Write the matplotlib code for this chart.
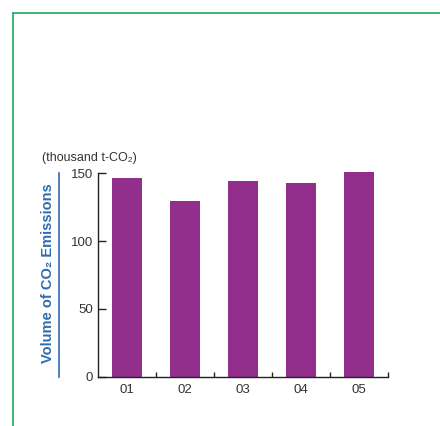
import matplotlib
matplotlib.use("Agg")
import matplotlib.pyplot as plt
from matplotlib.lines import Line2D
from matplotlib.ticker import FixedLocator

plt.rcParams['font.family'] = ['Liberation Sans', 'DejaVu Sans']

# Annual emissions (thousand t-CO2)
years = ["01", "02", "03", "04", "05"]
emissions = [146.8, 129.6, 144.3, 142.8, 151.0]
y_ticks = [0, 50, 100, 150]

W, H = 440, 426
fig = plt.figure(figsize=(W / 100, H / 100), dpi=100)

def fx(px):
    return px / W

def fy(py):
    return 1 - py / H

# panel frame (green)
green = '#2fae6b'
fig.add_artist(Line2D([fx(13.3), fx(13.3)], [fy(12.5), 0], transform=fig.transFigure,
                      color=green, lw=1.3))
fig.add_artist(Line2D([fx(13.3), 1], [fy(12.5), fy(12.5)], transform=fig.transFigure,
                      color=green, lw=1.3))

ax = fig.add_axes([fx(98.3), fy(376.7), fx(388.3) - fx(98.3), fy(173.3) - fy(376.7)])
x = list(range(len(years)))
ax.bar(x, emissions, width=0.52, color='#922f8d', clip_on=False, zorder=2)

ax.set_xlim(-0.5, len(years) - 0.5)
ax.set_ylim(0, 150)

for s in ['top', 'right']:
    ax.spines[s].set_visible(False)
for s in ['left', 'bottom']:
    ax.spines[s].set_color('#222222')
    ax.spines[s].set_linewidth(1.0)

text_col = '#333333'
ax.set_xticks(x)
ax.set_xticklabels(years)
ax.xaxis.set_minor_locator(FixedLocator([i + 0.5 for i in x]))
ax.tick_params(axis='x', which='major', length=0, pad=5, labelsize=9.5, labelcolor=text_col)
ax.tick_params(axis='x', which='minor', direction='in', length=3.5, width=1.0, color='#222222')

ax.set_yticks(y_ticks)
ax.set_yticklabels([str(v) for v in y_ticks])
ax.tick_params(axis='y', which='major', direction='in', length=5.5, width=1.0, color='#222222',
               pad=4, labelsize=9.5, labelcolor=text_col)

# unit label
fig.text(fx(41.7), fy(158), "(thousand t-CO₂)", ha='left', va='center', fontsize=9,
         color=text_col)

# axis title with rule
blue = '#2f6cb0'
fig.text(fx(48), fy(273), "Volume of CO₂ Emissions", rotation=90, ha='center', va='center',
         fontsize=10.5, fontweight='bold', color=blue)
fig.add_artist(Line2D([fx(59), fx(59)], [fy(173), fy(376.5)], transform=fig.transFigure,
                      color=blue, lw=1.2))

fig.savefig("out.png", dpi=100)
